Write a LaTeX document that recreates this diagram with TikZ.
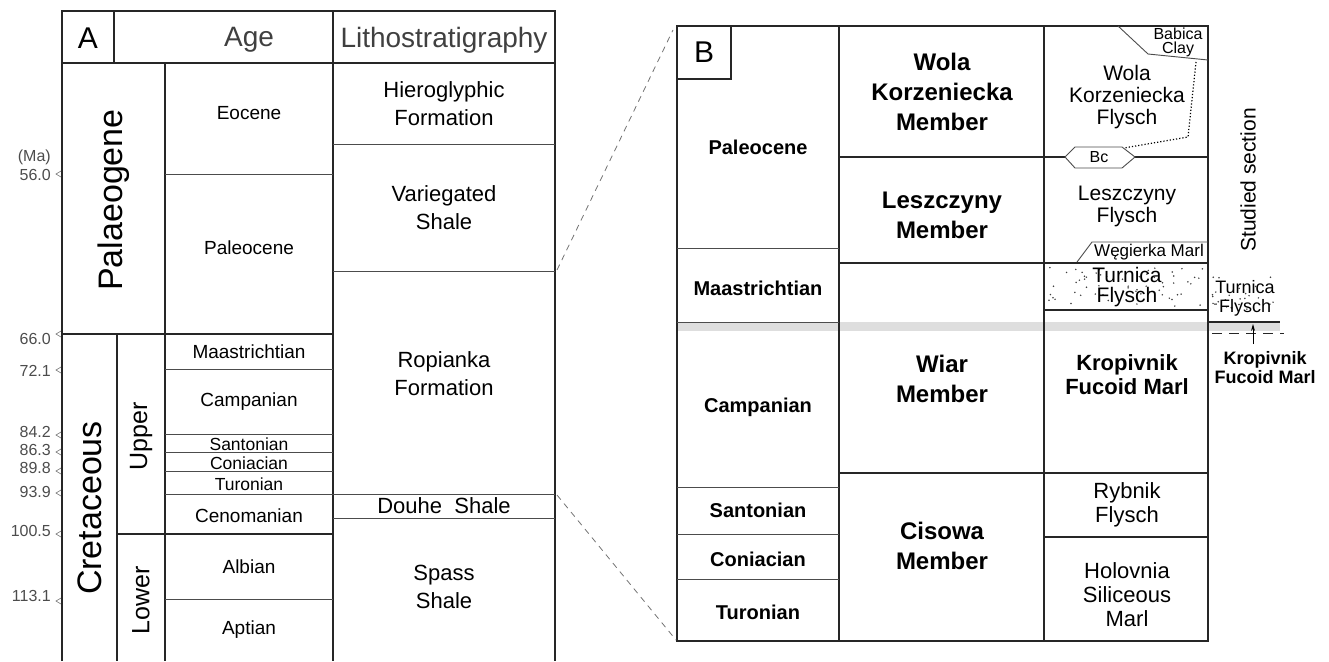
\documentclass[tikz,border=0pt]{standalone}
\usepackage{fontspec}
\setmainfont{Liberation Sans}
\usetikzlibrary{arrows.meta, positioning}

\begin{document}
\begin{tikzpicture}[
        x=1pt, y=-1pt,
        % Lines
        gridline/.style={
                draw=black!85,
                line width=1.1pt
            },
        thinline/.style={
                draw=black!70,
                line width=0.9pt
            },
        tickmark/.style={
                draw=black!55,
                line width=0.6pt
            },
        zoomline/.style={
                draw=black!55,
                line width=0.8pt,
                dash pattern=on 6pt off 5pt
            },
        % Texts of panel A
        agelabel/.style={
                font=\fontsize{16}{18}\selectfont,
                text=black!70,
                anchor=east,
                inner sep=0pt
            },
        header/.style={
                font=\fontsize{28}{30}\selectfont,
                text=black!75
            },
        panelletter/.style={
                font=\fontsize{30}{32}\selectfont
            },
        eralabel/.style={
                font=\fontsize{34}{36}\selectfont,
                rotate=90
            },
        epochlabel/.style={
                font=\fontsize{25}{27}\selectfont,
                rotate=90
            },
        stagelabel/.style={
                font=\fontsize{19}{21}\selectfont
            },
        smallstage/.style={
                font=\fontsize{17.5}{18}\selectfont,
                inner sep=0pt
            },
        formlabel/.style={
                font=\fontsize{22}{28}\selectfont,
                align=center
            },
        % Texts of panel B
        stagebold/.style={
                font=\bfseries\fontsize{20}{22}\selectfont
            },
        memberlabel/.style={
                font=\bfseries\fontsize{24}{30}\selectfont,
                align=center
            },
        lithlabel/.style={
                font=\fontsize{22}{24}\selectfont,
                align=center
            },
        lithbold/.style={
                font=\bfseries\fontsize{22}{24}\selectfont,
                align=center
            },
        minilabel/.style={
                font=\fontsize{16}{14}\selectfont,
                align=center,
                inner sep=0pt
            },
        sidelabel/.style={
                font=\fontsize{18}{19}\selectfont,
                align=center,
                inner sep=0pt
            }
    ]

    \useasboundingbox (0,0) rectangle (1329,661);

    % Panel A: frame
    \draw[gridline] (62,661) -- (62,11) -- (555,11) -- (555,661);
    \draw[gridline] (62,63) -- (555,63);
    \draw[gridline] (114,11) -- (114,63);
    \draw[gridline] (333,11) -- (333,661);
    \draw[gridline] (165,63) -- (165,661);
    \draw[gridline] (117,334) -- (117,661);
    \draw[gridline] (62,334) -- (333,334);
    \draw[gridline] (117,534) -- (333,534);

    % Panel A: stage boundaries
    \draw[thinline] (165,174) -- (333,174);
    \draw[thinline] (165,369) -- (333,369);
    \draw[thinline] (165,434) -- (333,434);
    \draw[thinline] (165,452) -- (333,452);
    \draw[thinline] (165,471) -- (333,471);
    \draw[thinline] (165,494) -- (555,494);
    \draw[thinline] (165,599) -- (333,599);

    % Panel A: formation boundaries
    \draw[thinline] (333,144) -- (555,144);
    \draw[thinline] (333,271) -- (555,271);
    \draw[thinline] (333,518) -- (555,518);

    % Panel A: headers
    \node[panelletter] (letterA) at (88,38) {A};
    \node[header] (age) at (249,40) {Age};
    \node[header] (litho) at (444,40) {Lithostratigraphy};

    % Panel A: periods and epochs
    \node[eralabel] (palaeogene) at (114,200) {Palaeogene};
    \node[eralabel] (cretaceous) at (90,508) {Cretaceous};
    \node[epochlabel] (upper) at (141,436) {Upper};
    \node[epochlabel] (lower) at (141,600) {Lower};

    % Panel A: stages
    \node[stagelabel] (eocene) at (249,113) {Eocene};
    \node[stagelabel] (paleoceneA) at (249,248) {Paleocene};
    \node[stagelabel] (maastrichtianA) at (249,352) {Maastrichtian};
    \node[stagelabel] (campanianA) at (249,402) {Campanian};
    \node[smallstage] (santonianA) at (249,444) {Santonian};
    \node[smallstage] (coniacianA) at (249,463) {Coniacian};
    \node[smallstage] (turonianA) at (249,484) {Turonian};
    \node[stagelabel] (cenomanian) at (249,516) {Cenomanian};
    \node[stagelabel] (albian) at (249,567) {Albian};
    \node[stagelabel] (aptian) at (249,630) {Aptian};

    % Panel A: formations
    \node[formlabel] (hieroglyphic) at (444,104) {Hieroglyphic\\Formation};
    \node[formlabel] (variegated) at (444,208) {Variegated\\Shale};
    \node[formlabel] (ropianka) at (444,374) {Ropianka\\Formation};
    \node[formlabel, inner sep=0pt] (douhe) at (444,506) {Douhe\ \ Shale};
    \node[formlabel] (spass) at (444,587) {Spass\\Shale};

    % Panel A: age scale (Ma)
    \node[agelabel] (ma) at (51,157) {(Ma)};
    \node[agelabel] (t560) at (51,175) {56.0};
    \node[agelabel] (t660) at (51,339) {66.0};
    \node[agelabel] (t721) at (51,371) {72.1};
    \node[agelabel] (t842) at (51,432) {84.2};
    \node[agelabel] (t863) at (51,450) {86.3};
    \node[agelabel] (t898) at (51,468) {89.8};
    \node[agelabel] (t939) at (51,492) {93.9};
    \node[agelabel] (t1005) at (51,531) {100.5};
    \node[agelabel] (t1131) at (51,596) {113.1};
    \draw[tickmark] (61,171) -- (56,174) -- (61,177);
    \draw[tickmark] (61,331) -- (56,334) -- (61,337);
    \draw[tickmark] (61,367) -- (56,370) -- (61,373);
    \draw[tickmark] (61,432) -- (56,435) -- (61,438);
    \draw[tickmark] (61,449) -- (56,452) -- (61,455);
    \draw[tickmark] (61,468) -- (56,471) -- (61,474);
    \draw[tickmark] (61,490) -- (56,493) -- (61,496);
    \draw[tickmark] (61,531) -- (56,534) -- (61,537);
    \draw[tickmark] (61,598) -- (56,601) -- (61,604);

    % Panel B: grey band and dotted flysch
    \fill[black!13] (677,322) rectangle (1280,331);
    \pgfmathsetseed{11}
    \foreach \i in {1,...,60} {
        \fill[black!75] (1048+rnd*156, 267+rnd*40) circle (0.85);
    }
    \foreach \i in {1,...,26} {
        \fill[black!75] (1212+rnd*66, 277+rnd*42) circle (0.85);
    }

    % Panel B: frame
    \draw[gridline, line width=1.3pt] (677,26) rectangle (1208,641);
    \draw[gridline] (677,79) -- (731,79) -- (731,26);
    \draw[gridline] (839,26) -- (839,641);
    \draw[gridline] (1044,26) -- (1044,641);

    % Panel B: stage boundaries
    \draw[thinline] (677,248) -- (839,248);
    \draw[thinline] (677,322) -- (839,322);
    \draw[thinline] (677,487) -- (839,487);
    \draw[thinline] (677,534) -- (839,534);
    \draw[thinline] (677,579) -- (839,579);

    % Panel B: member and lithology boundaries
    \draw[gridline] (839,157) -- (1208,157);
    \draw[gridline] (839,263) -- (1208,263);
    \draw[gridline] (839,473) -- (1208,473);
    \draw[gridline] (1044,310) -- (1208,310);
    \draw[gridline] (1044,537) -- (1208,537);
    \draw[gridline] (1208,322) -- (1280,322);

    % Panel B: thin beds
    \draw[thinline] (1118,26) -- (1148,54) -- (1208,60);
    \draw[thinline, fill=white] (1065,157) -- (1075,147) -- (1122,147)
        -- (1135,157) -- (1122,168) -- (1075,168) -- cycle;
    \draw[thinline] (1077,262) -- (1092,242) -- (1208,242);
    \draw[line width=1.2pt, dotted] (1196,62) -- (1188,137) -- (1124,148);

    % Panel B: letter and stages
    \node[panelletter] (letterB) at (704,52) {B};
    \node[stagebold] (paleoceneB) at (758,147) {Paleocene};
    \node[stagebold] (maastrichtianB) at (758,288) {Maastrichtian};
    \node[stagebold] (campanianB) at (758,407) {Campanian};
    \node[stagebold] (santonianB) at (758,510) {Santonian};
    \node[stagebold] (coniacianB) at (758,559) {Coniacian};
    \node[stagebold] (turonianB) at (758,612) {Turonian};

    % Panel B: members
    \node[memberlabel] (wola) at (942,92) {Wola\\Korzeniecka\\Member};
    \node[memberlabel] (leszczyny) at (942,215) {Leszczyny\\Member};
    \node[memberlabel] (wiar) at (942,379) {Wiar\\Member};
    \node[memberlabel] (cisowa) at (942,546) {Cisowa\\Member};

    % Panel B: lithology
    \node[minilabel] (babica) at (1178,42) {Babica\\Clay};
    \node[lithlabel, font=\fontsize{21}{22}\selectfont] (wolaflysch) at (1127,97) {Wola\\Korzeniecka\\Flysch};
    \node[minilabel] (bc) at (1099,157) {Bc};
    \node[lithlabel, font=\fontsize{21}{22}\selectfont] (leszflysch) at (1127,206) {Leszczyny\\Flysch};
    \node[minilabel, font=\fontsize{17}{18}\selectfont] (wegierka) at (1149,252) {Węgierka Marl};
    \node[lithlabel, font=\fontsize{21}{20}\selectfont] (turnica) at (1127,287) {Turnica\\Flysch};
    \node[lithbold] (kropivnik) at (1127,375) {Kropivnik\\Fucoid Marl};
    \node[lithlabel] (rybnik) at (1127,505) {Rybnik\\Flysch};
    \node[lithlabel] (holovnia) at (1127,595) {Holovnia\\Siliceous\\Marl};

    % Panel B: studied section
    \node[font=\fontsize{21}{22}\selectfont, rotate=90] (studied) at (1248,180) {Studied section};
    \node[sidelabel] (turnicaside) at (1245,298) {Turnica\\Flysch};
    \node[sidelabel, font=\bfseries\fontsize{18}{19}\selectfont] (kropside) at (1265,368) {Kropivnik\\Fucoid Marl};
    \coordinate (dashL) at (1212,333);
    \coordinate (dashR) at (1284,333);
    \draw[black!85, line width=1pt, dash pattern=on 10pt off 7pt] (dashL) -- (dashR);
    \coordinate (arrowfoot) at (1253,344);
    \coordinate (arrowtip) at (1253,324);
    \draw[line width=0.9pt, -{Stealth[length=7pt, width=4pt]}] (arrowfoot) -- (arrowtip);

    % Zoom lines
    \coordinate (zoomA1) at (557,270);
    \coordinate (zoomB1) at (673,30);
    \coordinate (zoomA2) at (557,495);
    \coordinate (zoomB2) at (676,640);
    \draw[zoomline] (zoomA1) -- (zoomB1);
    \draw[zoomline] (zoomA2) -- (zoomB2);

\end{tikzpicture}
\end{document}
